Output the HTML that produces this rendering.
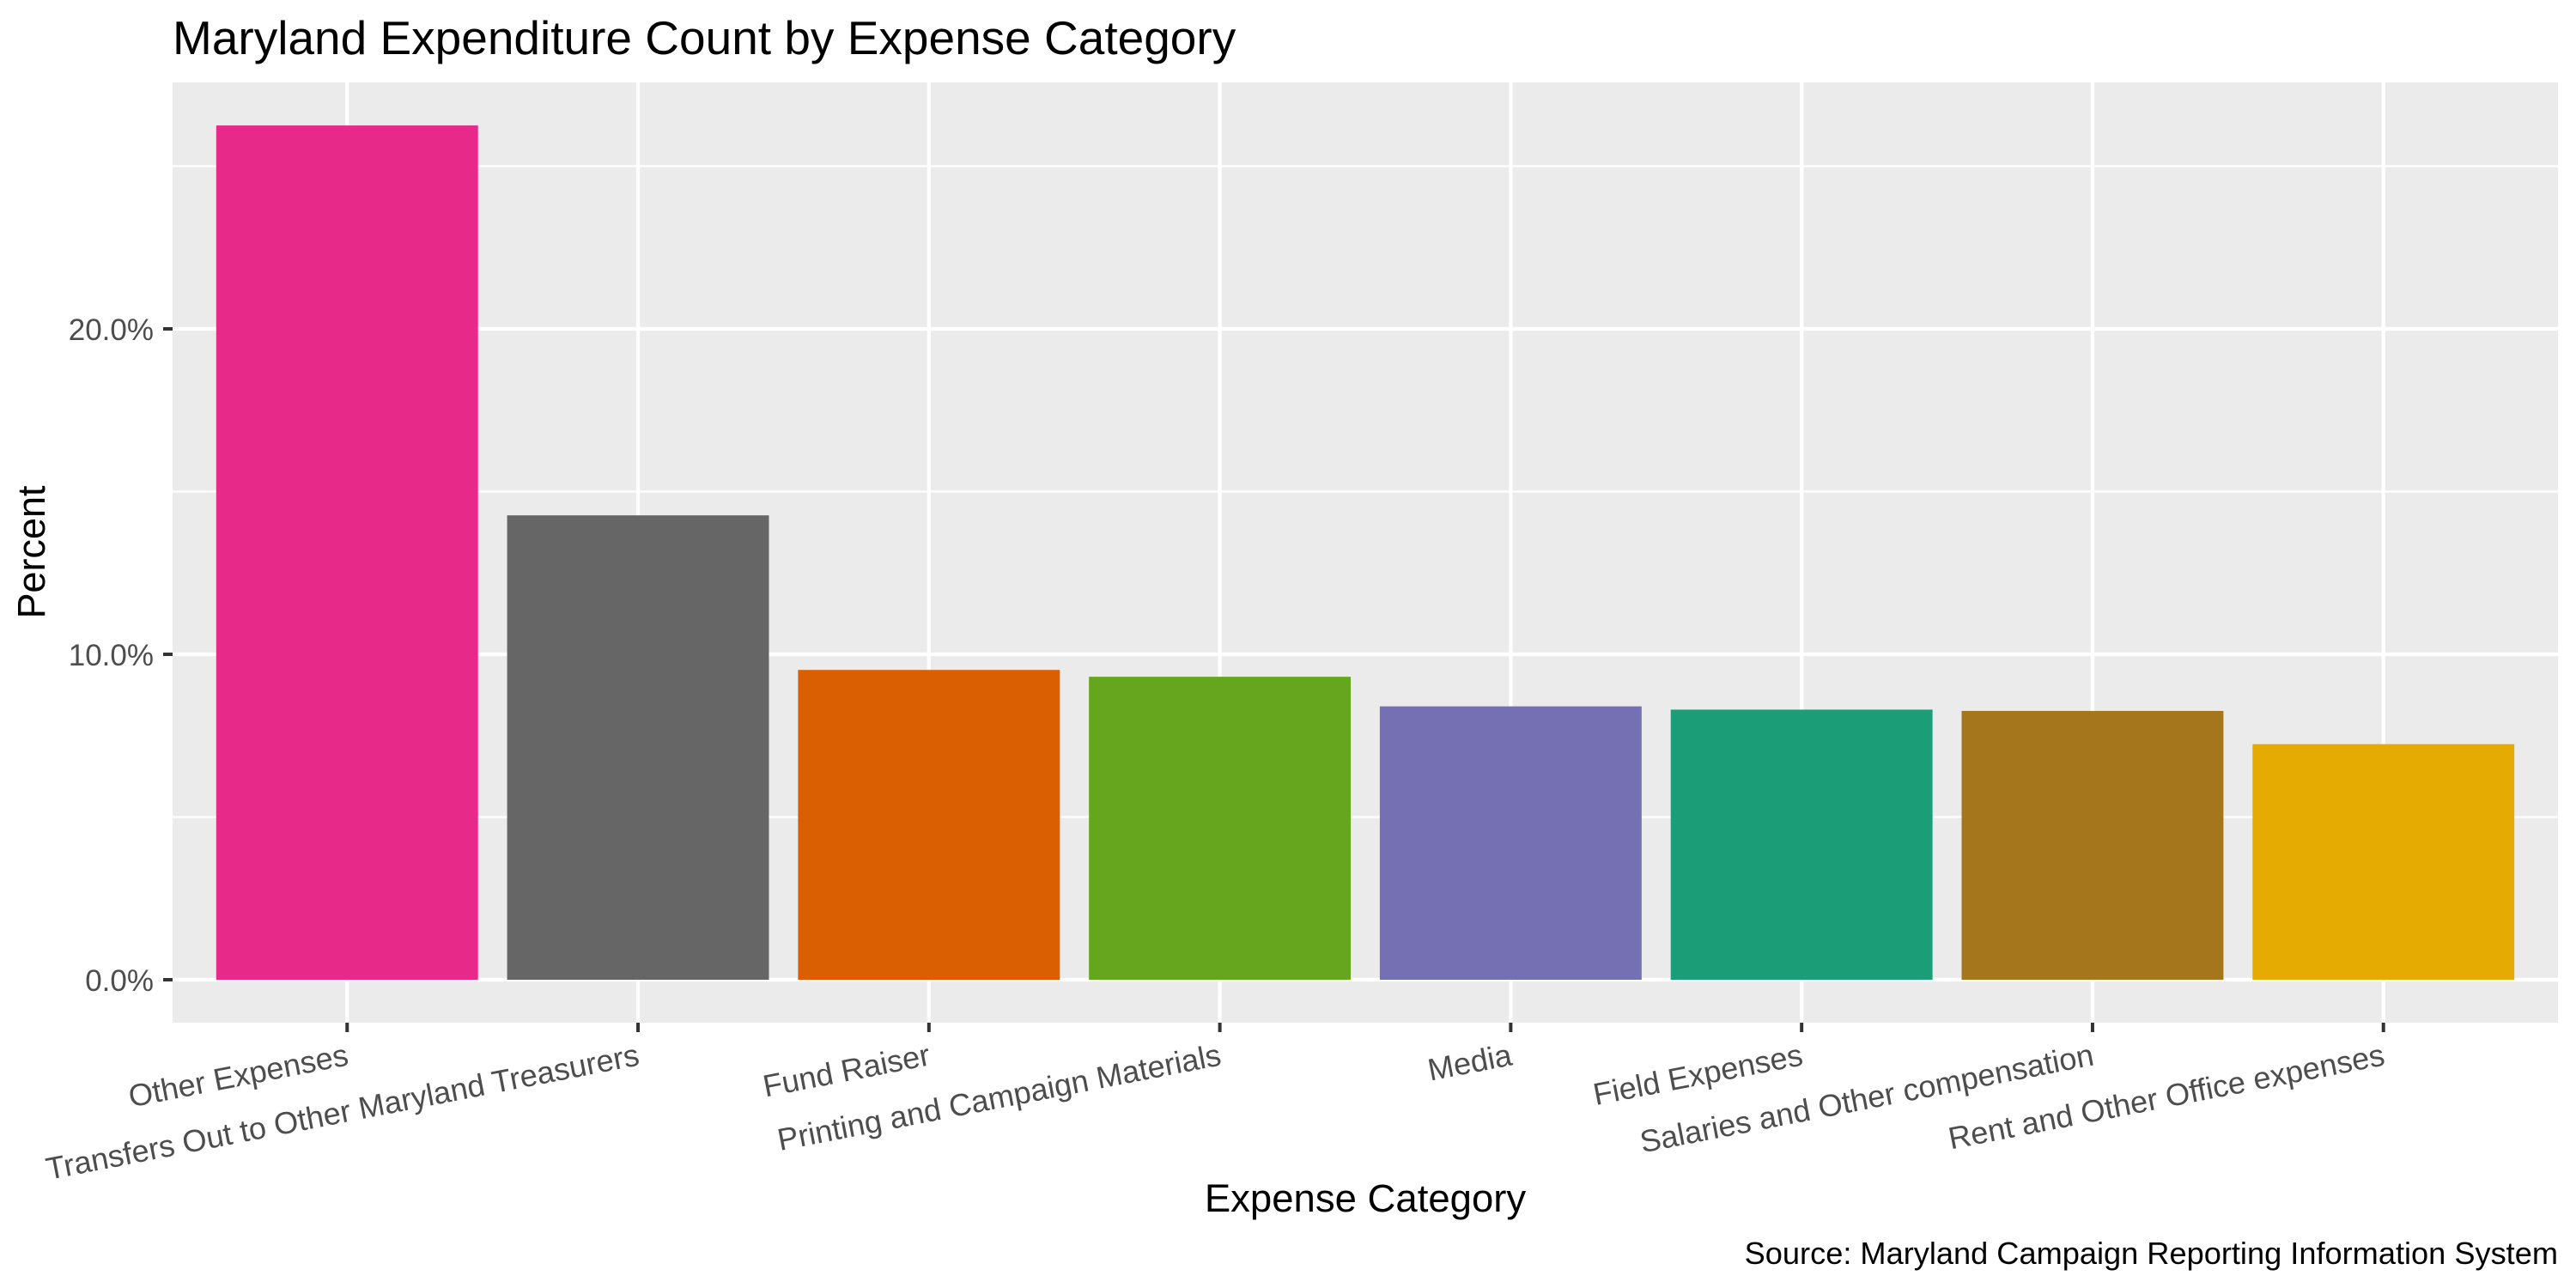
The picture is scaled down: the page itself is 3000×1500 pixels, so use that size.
<!DOCTYPE html>
<html><head><meta charset="utf-8"><style>
html,body{margin:0;padding:0;background:#fff}
svg{display:block;font-family:"Liberation Sans",Arial,sans-serif}
</style></head><body>
<svg id="chart" width="3000" height="1500" viewBox="0 0 3000 1500" xmlns="http://www.w3.org/2000/svg">
<rect x="0" y="0" width="3000" height="1500" fill="#fff"/>
<text x="201" y="63" font-size="55" fill="#000">Maryland Expenditure Count by Expense Category</text>
<rect x="201" y="96" width="2778" height="1095" fill="#ebebeb"/>
<g id="grid"></g>
<g id="bars"></g>
<g id="yaxis"></g>
<g id="xaxis"></g>
<text transform="translate(52,643) rotate(-90)" text-anchor="middle" font-size="45" fill="#000">Percent</text>
<text x="1590" y="1411" text-anchor="middle" font-size="45.5" fill="#000">Expense Category</text>
<text x="2979" y="1472" text-anchor="end" font-size="36.2" fill="#000">Source: Maryland Campaign Reporting Information System</text>
</svg>
<script>
const categories = ["Other Expenses","Transfers Out to Other Maryland Treasurers","Fund Raiser","Printing and Campaign Materials","Media","Field Expenses","Salaries and Other compensation","Rent and Other Office expenses"];
const values = [26.25, 14.27, 9.52, 9.31, 8.40, 8.30, 8.26, 7.24];
const colors = ["#E7298A","#666666","#D95F02","#66A61E","#7570B3","#1B9E77","#A6761D","#E6AB02"];
const yTicks = [0, 10, 20];
const yTickLabels = ["0.0%","10.0%","20.0%"];
const yMinor = [5, 15, 25];

const NS = "http://www.w3.org/2000/svg";
const PL = 201, PR = 2979, PT = 96, PB = 1191;
const Y0 = 1141, PX_PER = 37.9;
function y(v){ return Y0 - v * PX_PER; }
const step = (PR - PL) / (categories.length + 0.2);
function x(i){ return PL + step * (0.6 + i); }
function mk(tag, attrs, parent){ const e = document.createElementNS(NS, tag); for (const k in attrs) e.setAttribute(k, attrs[k]); parent.appendChild(e); return e; }

const grid = document.getElementById('grid');
yMinor.forEach(v => { if (y(v) > PT) {
  const l = mk('line', {x1:PL, x2:PR, y1:y(v), y2:y(v), stroke:'#fff', 'stroke-width':2.2}, grid);
  
  
}});
yTicks.forEach(v => {
  const l = mk('line', {x1:PL, x2:PR, y1:y(v), y2:y(v), stroke:'#fff', 'stroke-width':4.3}, grid);
  
  
});
categories.forEach((c, i) => {
  const l = mk('line', {x1:x(i), x2:x(i), y1:PT, y2:PB, stroke:'#fff', 'stroke-width':4.3}, grid);
  
  
});

const bars = document.getElementById('bars');
const bw = step * 0.9;
values.forEach((v, i) => {
  const r = mk('rect', {x:x(i) - bw/2, y:y(v), width:bw, height:Y0 - y(v), fill:colors[i]}, bars);
  
  
});

const ya = document.getElementById('yaxis');
yTicks.forEach((v, i) => {
  const t = mk('line', {x1:PL-11, x2:PL, y1:y(v), y2:y(v), stroke:'#333', 'stroke-width':4}, ya);
  
  
  const tx = mk('text', {x:PL-22, y:y(v)+13, 'text-anchor':'end', 'font-size':35, fill:'#4d4d4d'}, ya);
  tx.textContent = yTickLabels[i];
  
  
});

const xa = document.getElementById('xaxis');
categories.forEach((c, i) => {
  const t = mk('line', {x1:x(i), x2:x(i), y1:PB, y2:PB+11, stroke:'#333', 'stroke-width':4}, xa);
  
  
  const tx = mk('text', {transform:'translate(' + (x(i)+3) + ',1240) rotate(-11)', 'text-anchor':'end', 'font-size':36.2, fill:'#4d4d4d'}, xa);
  tx.textContent = c;
  
  
});
</script>
</body></html>
